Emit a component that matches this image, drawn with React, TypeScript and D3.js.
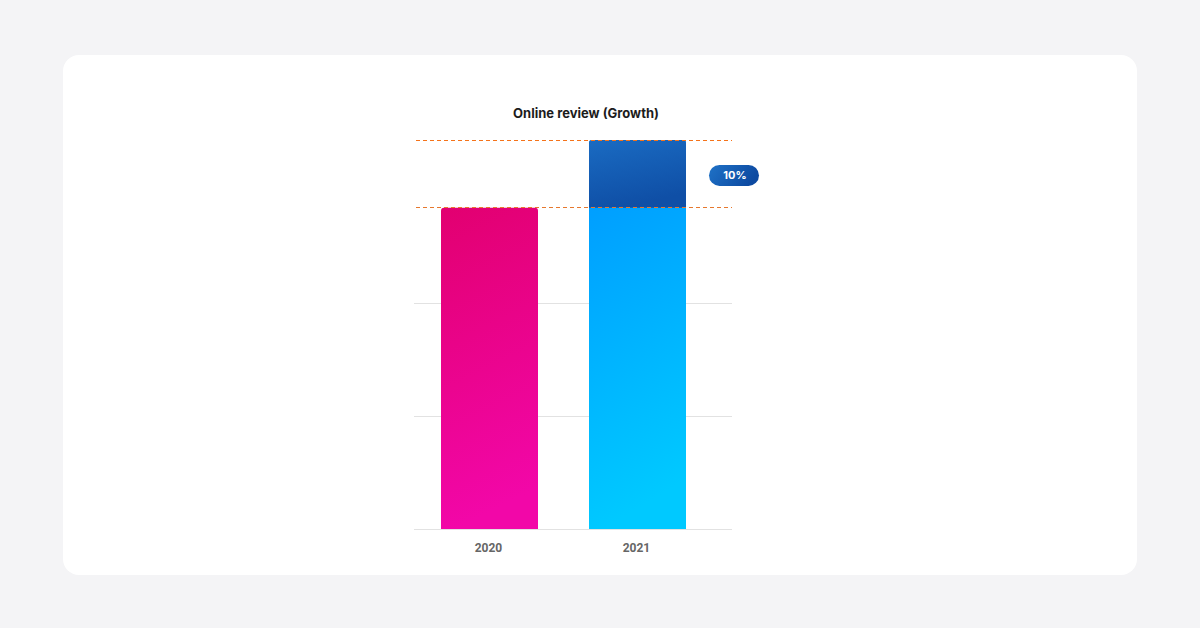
import React from "react";
import * as d3 from "d3";

const categories = ["2020", "2021"];
const values = [284, 344];
const baseValue = 284;
const gridTicks = [0, 100, 200];
const growthLabel = "10%";
const title = "Online review (Growth)";

export default function App() {
  const W = 1200, H = 628;
  const left = 414, right = 732, top = 140, bottom = 529;
  const y = d3.scaleLinear().domain([0, d3.max(values) as number]).range([bottom, top]);
  const bw = 97;
  const cx = d3.scalePoint<string>().domain(categories).range([489.5, 637.5]);
  const r = 3;
  const topRounded = (x0: number, y0: number, w: number, h: number) =>
    `M${x0},${y0 + h}V${y0 + r}Q${x0},${y0} ${x0 + r},${y0}H${x0 + w - r}Q${x0 + w},${y0} ${x0 + w},${y0 + r}V${y0 + h}Z`;
  const crisp = (v: number) => Math.round(v) + 0.5;

  const c2021 = cx("2021") as number;
  return (
    <div style={{ position: "fixed", left: 0, top: 0, width: W, height: H, background: "#f4f4f6" }}>
      <svg width={W} height={H} style={{ display: "block" }}>
        <defs>
          <linearGradient id="gPink" x1="0" y1="0" x2="0.15" y2="1">
            <stop offset="0" stopColor="#e20070" />
            <stop offset="1" stopColor="#f207a8" />
          </linearGradient>
          <linearGradient id="gBlue" x1="0" y1="0" x2="0.15" y2="1">
            <stop offset="0" stopColor="#0096ff" />
            <stop offset="1" stopColor="#00c9ff" />
          </linearGradient>
          <linearGradient id="gDark" x1="0" y1="0" x2="0.3" y2="1">
            <stop offset="0" stopColor="#1a6bc2" />
            <stop offset="1" stopColor="#0f4fa6" />
          </linearGradient>
          <linearGradient id="gPill" x1="0" y1="0" x2="1" y2="0.3">
            <stop offset="0" stopColor="#1f72c7" />
            <stop offset="1" stopColor="#0d4aa1" />
          </linearGradient>
        </defs>
        <rect x={63} y={55} width={1074} height={520} rx={16} fill="#ffffff" />
        <text x={586} y={118} textAnchor="middle" fontFamily="Inter, 'Open Sans', sans-serif" fontWeight={700} fontSize={13} fill="#1c1c1c">
          {title}
        </text>
        {gridTicks.map((t) => (
          <line key={t} x1={left} x2={right} y1={crisp(y(t))} y2={crisp(y(t))} stroke="#e2e2e2" strokeWidth={1} />
        ))}
        {categories.map((c, i) => {
          const xc = cx(c) as number;
          const yv = y(values[i]);
          return (
            <path key={c} d={topRounded(xc - bw / 2, yv, bw, bottom - yv)} fill={i === 0 ? "url(#gPink)" : "url(#gBlue)"} />
          );
        })}
        <path d={topRounded(c2021 - bw / 2, y(values[1]), bw, y(baseValue) - y(values[1]))} fill="url(#gDark)" />
        <line x1={416} x2={right} y1={y(values[1]) + 0.5} y2={y(values[1]) + 0.5} stroke="#f5731a" strokeWidth={1} strokeDasharray="4 3" />
        <line x1={416} x2={right} y1={crisp(y(baseValue)) - 1} y2={crisp(y(baseValue)) - 1} stroke="#e6782e" strokeWidth={1} strokeDasharray="4 3" />
        {categories.map((c) => (
          <text key={c} x={(cx(c) as number) - 1} y={552} textAnchor="middle" fontFamily="Roboto, sans-serif" fontWeight={700} fontSize={12} fill="#666666">
            {c}
          </text>
        ))}
        <g transform={`translate(734, ${(y(values[1]) + y(baseValue)) / 2 + 1.5})`}>
          <rect x={-25} y={-10.5} width={50} height={21} rx={10.5} fill="url(#gPill)" />
          <text x={1} y={4} textAnchor="middle" fontFamily="Inter, Roboto, sans-serif" fontWeight={700} fontSize={11} fill="#ffffff">
            {growthLabel}
          </text>
        </g>
      </svg>
    </div>
  );
}
